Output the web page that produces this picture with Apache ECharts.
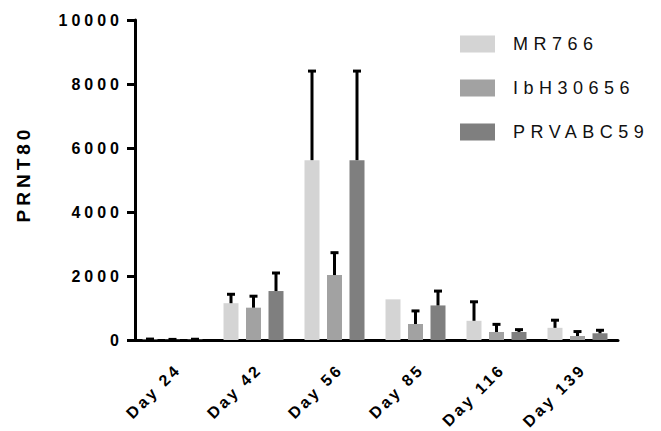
<!DOCTYPE html>
<html>
<head>
<meta charset="utf-8">
<script src="https://cdn.jsdelivr.net/npm/echarts@6/dist/echarts.min.js"></script>
<style>
  html, body { margin: 0; padding: 0; background: #fff; }
  #chart { width: 661px; height: 431px; }
  #chart text { letter-spacing: 4px; }
</style>
</head>
<body>
<div id="chart"></div>
<script>
const categories = ['Day 24', 'Day 42', 'Day 56', 'Day 85', 'Day 116', 'Day 139'];
const seriesNames = ['MR766', 'IbH30656', 'PRVABC59'];
const mr766 = [15, 1150, 5620, 1270, 600, 380];
const mr766Err = [45, 310, 2815, 0, 625, 270];
const ibh30656 = [10, 1010, 2030, 500, 250, 125];
const ibh30656Err = [40, 390, 730, 440, 270, 170];
const prvabc59 = [15, 1530, 5620, 1080, 250, 210];
const prvabc59Err = [40, 595, 2815, 480, 105, 125];
const yTicks = [0, 2000, 4000, 6000, 8000, 10000];

const colors = ['#d4d4d4', '#a2a2a2', '#7f7f7f'];
const values = [mr766, ibh30656, prvabc59];
const errors = [mr766Err, ibh30656Err, prvabc59Err];
const BAR_W = 15, BAR_GAP = 7.5;
const FONT = '"Liberation Sans", Arial, Helvetica, sans-serif';

function errRender(offset) {
  return function (params, api) {
    const cat = api.value(0), v = api.value(1), e = api.value(2);
    if (!e) return null;
    const p0 = api.coord([cat, v]);
    const p1 = api.coord([cat, v + e]);
    const x = p0[0] + offset;
    return {
      type: 'group',
      children: [
        { type: 'line', shape: { x1: x, y1: p0[1], x2: x, y2: p1[1] + 1 }, style: { stroke: '#000', lineWidth: 3 } },
        { type: 'line', shape: { x1: x - 4, y1: p1[1] + 1, x2: x + 4, y2: p1[1] + 1 }, style: { stroke: '#000', lineWidth: 3 } }
      ]
    };
  };
}

const series = [];
seriesNames.forEach((name, i) => {
  series.push({
    name: name,
    type: 'bar',
    barWidth: BAR_W,
    barGap: '50%',
    itemStyle: { color: colors[i] },
    data: values[i],
    z: 2
  });
});
seriesNames.forEach((name, i) => {
  series.push({
    type: 'custom',
    renderItem: errRender((i - 1) * (BAR_W + BAR_GAP)),
    data: values[i].map((v, k) => [k, v, errors[i][k]]),
    encode: { x: 0, y: 1 },
    z: 3,
    silent: true
  });
});

const chart = echarts.init(document.getElementById('chart'), null, { renderer: 'svg' });
chart.setOption({
  animation: false,
  backgroundColor: '#fff',
  textStyle: { fontFamily: FONT },
  grid: { left: 132, top: 20, width: 486, height: 320, containLabel: false },
  legend: {
    orient: 'vertical',
    left: 460,
    top: 35,
    padding: 0,
    itemWidth: 35,
    itemHeight: 17,
    itemGap: 26,
    icon: 'rect',
    data: seriesNames,
    textStyle: { fontSize: 18, color: '#111', fontFamily: FONT, padding: [0, 0, 0, 13] }
  },
  xAxis: {
    type: 'category',
    data: categories,
    axisLine: { lineStyle: { color: '#000', width: 3 } },
    axisTick: { alignWithLabel: true, length: 8, lineStyle: { color: '#000', width: 3 } },
    axisLabel: { rotate: 45, margin: 21, verticalAlign: 'top', color: '#000', fontSize: 16, fontWeight: 'bold', fontFamily: FONT, interval: 0 }
  },
  yAxis: {
    type: 'value',
    min: yTicks[0],
    max: yTicks[yTicks.length - 1],
    interval: 2000,
    offset: -3,
    name: 'PRNT80',
    nameLocation: 'middle',
    nameGap: 102,
    nameTextStyle: { color: '#000', fontSize: 19, fontWeight: 'bold', fontFamily: FONT, padding: [0, 0, 0, 12] },
    splitLine: { show: false },
    axisLine: { show: true, lineStyle: { color: '#000', width: 3 } },
    axisTick: { show: true, length: 8, lineStyle: { color: '#000', width: 3 } },
    axisLabel: { margin: 12, color: '#000', fontSize: 16, fontWeight: 'bold', fontFamily: FONT, formatter: v => String(v) }
  },
  series: series
});

function tweakText() {
  document.querySelectorAll('#chart text').forEach(t => {
    const s = t.textContent.trim();
    if (seriesNames.indexOf(s) >= 0) t.style.letterSpacing = '5.5px';
    else if (categories.indexOf(s) >= 0) t.style.letterSpacing = '3px';
  });
}
tweakText();
chart.on('finished', tweakText);
</script>
</body>
</html>
